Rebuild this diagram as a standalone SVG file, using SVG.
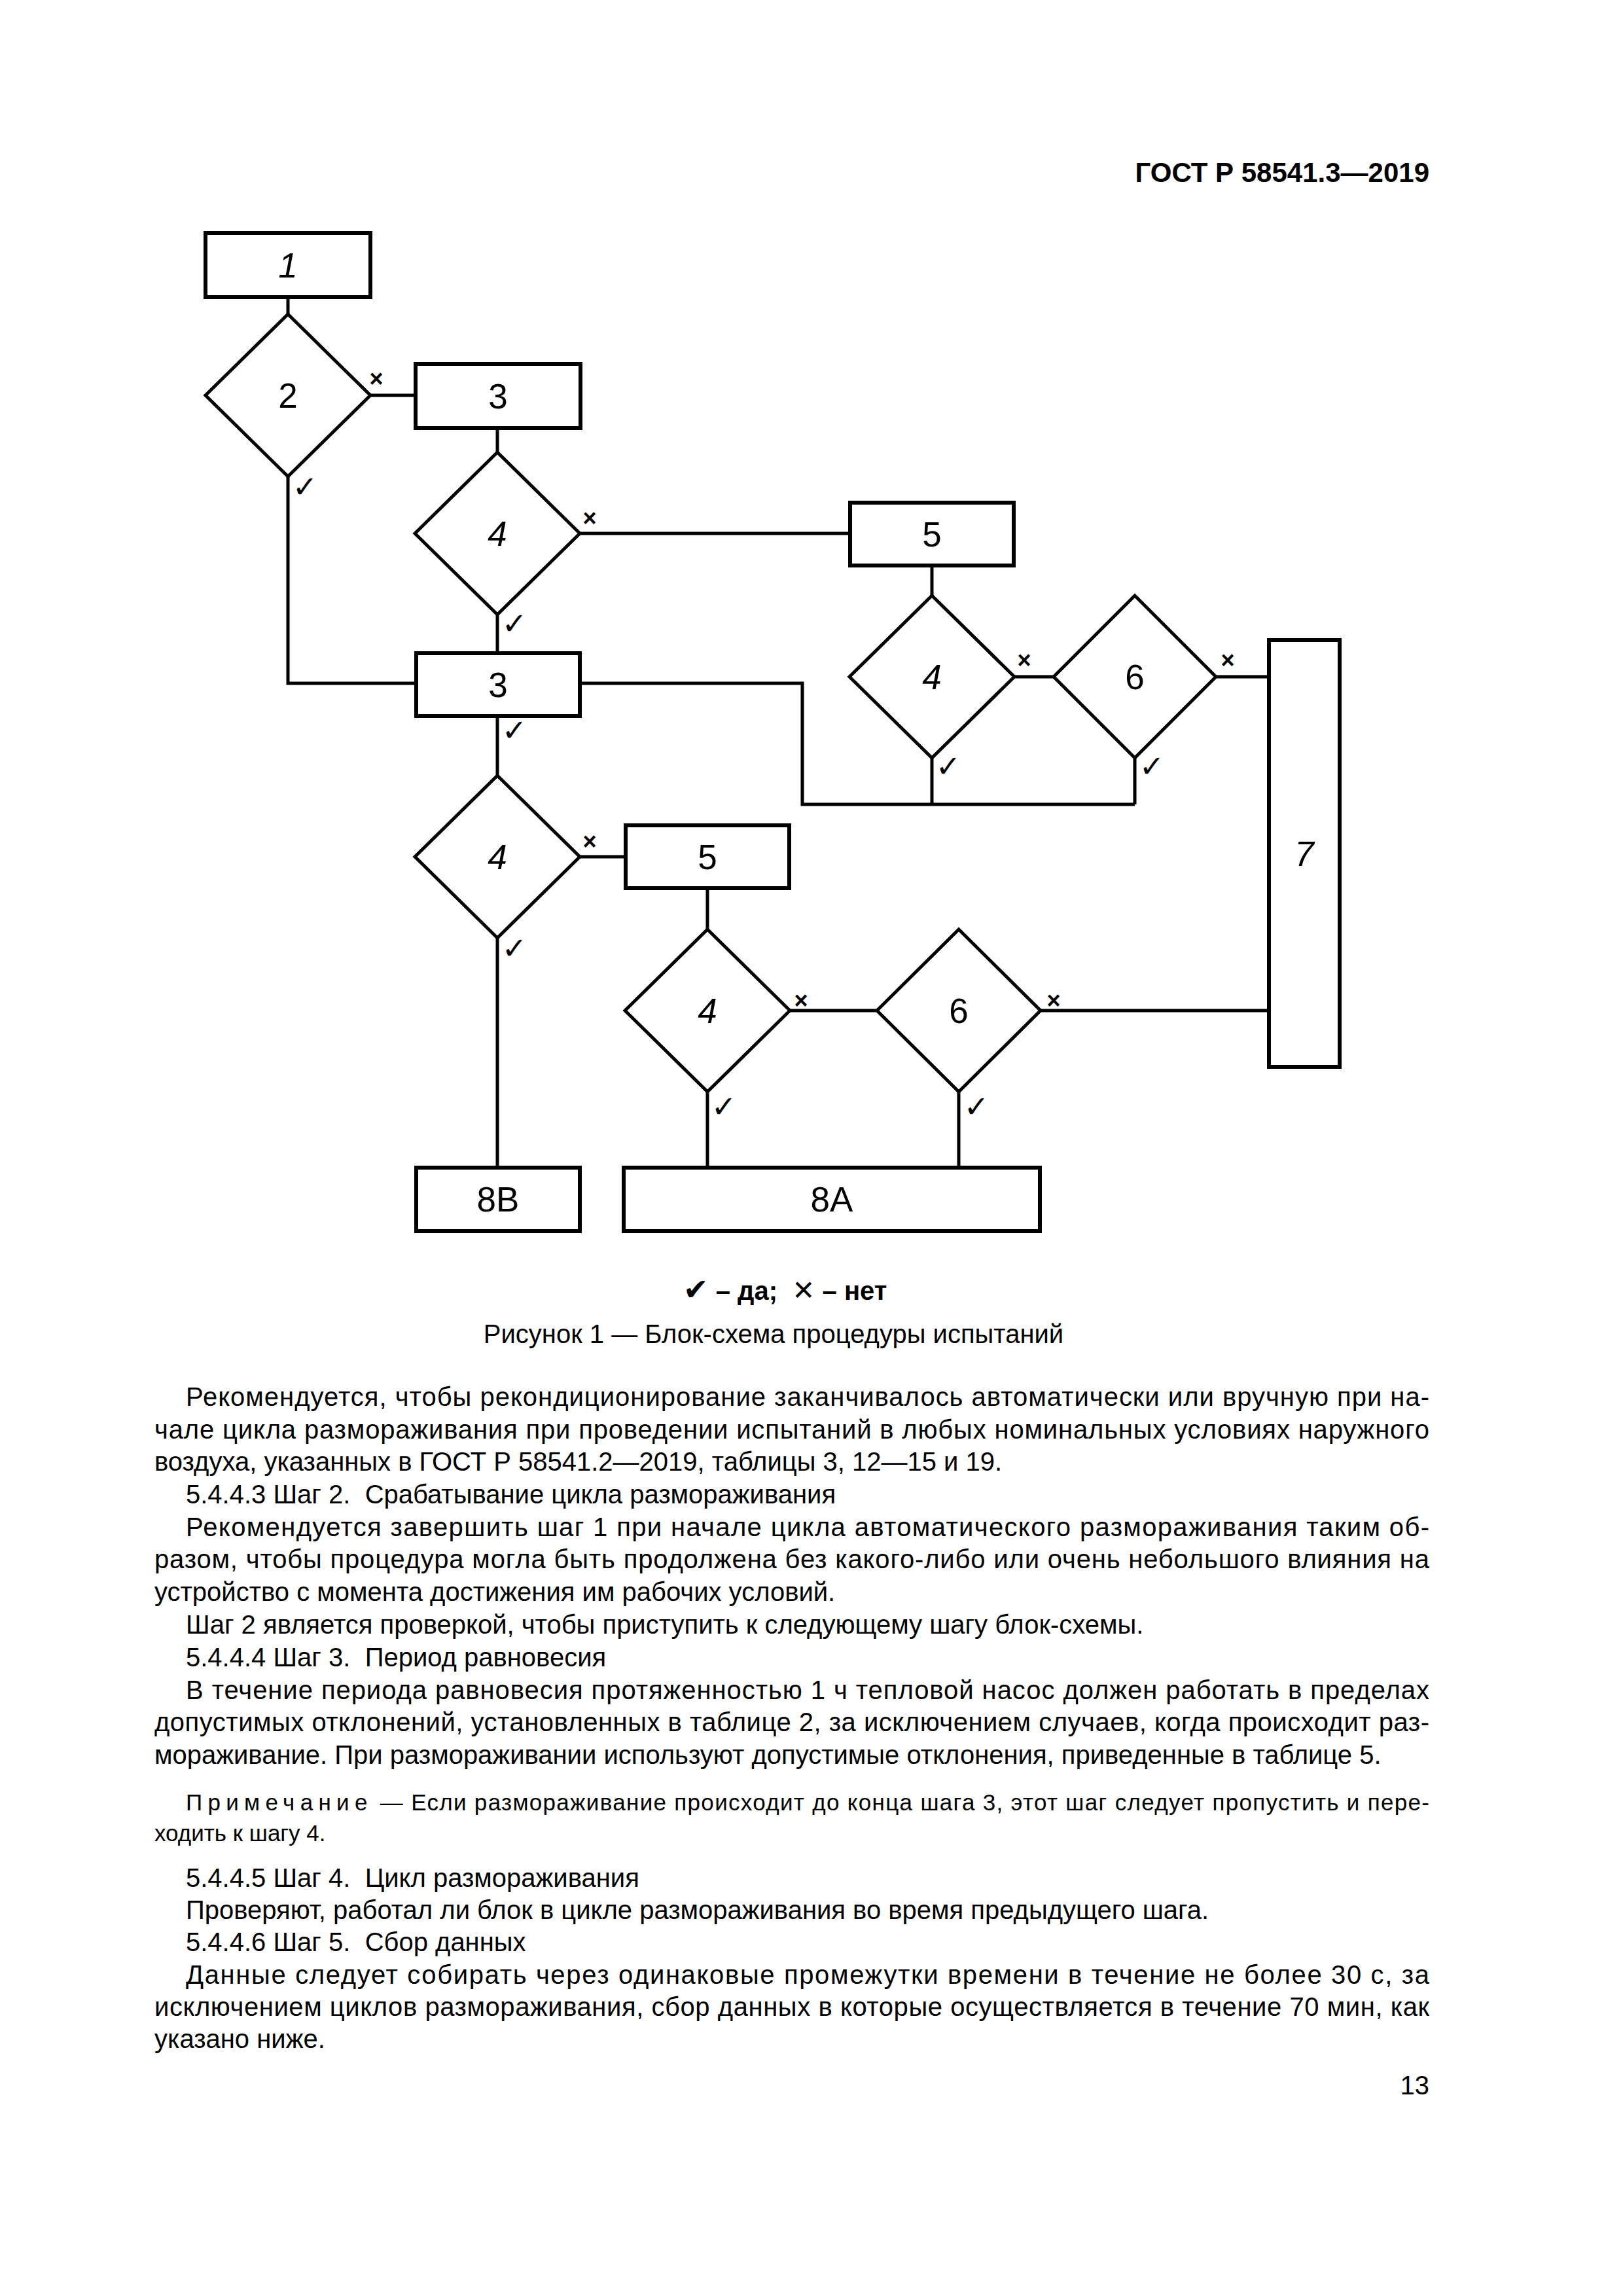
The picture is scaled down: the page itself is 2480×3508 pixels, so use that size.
<svg xmlns="http://www.w3.org/2000/svg" width="2480" height="3508" viewBox="0 0 2480 3508">
<style>
.box{fill:#fff;stroke:#000;stroke-width:6}
.dia{fill:#fff;stroke:#000;stroke-width:5}
.con{fill:none;stroke:#000;stroke-width:5}
.lbl{font-family:"Liberation Sans",Arial,sans-serif;font-size:53px;text-anchor:middle;fill:#000}
.it{font-style:italic}
.no{font-family:"Liberation Sans",Arial,sans-serif;font-weight:bold;font-size:36px;text-anchor:middle}
.yes{font-family:"DejaVu Sans",sans-serif;font-size:46px;text-anchor:middle}
.body{font-family:"Liberation Sans",Arial,sans-serif;font-size:40px;fill:#000}
.note{font-family:"Liberation Sans",Arial,sans-serif;font-size:35px;fill:#000}
.hdr{font-family:"Liberation Sans",Arial,sans-serif;font-size:42px;font-weight:bold;text-anchor:end}
</style>
<rect width="2480" height="3508" fill="#fff"/>
<text class="hdr" x="2184" y="278">ГОСТ Р 58541.3—2019</text>

<g id="connectors">
<path class="con" d="M440 456V480"/>
<path class="con" d="M566 604H635"/>
<path class="con" d="M760 654V691"/>
<path class="con" d="M886 815H1299"/>
<path class="con" d="M760 939V998"/>
<path class="con" d="M440 728V1044H636"/>
<path class="con" d="M886 1044H1226V1229H1734"/>
<path class="con" d="M1424 864V910"/>
<path class="con" d="M1550 1034H1610"/>
<path class="con" d="M1858 1034H1939"/>
<path class="con" d="M1424 1158V1229"/>
<path class="con" d="M1734 1158V1229"/>
<path class="con" d="M760 1094V1185"/>
<path class="con" d="M886 1309H956"/>
<path class="con" d="M760 1433V1784"/>
<path class="con" d="M1081 1357V1420"/>
<path class="con" d="M1207 1544H1340"/>
<path class="con" d="M1590 1544H1939"/>
<path class="con" d="M1081 1668V1784"/>
<path class="con" d="M1465 1668V1784"/>
<text class="no" x="575" y="591">×</text>
<text class="no" x="901" y="804">×</text>
<text class="no" x="1565" y="1021">×</text>
<text class="no" x="1876" y="1021">×</text>
<text class="no" x="901" y="1298">×</text>
<text class="no" x="1224" y="1541">×</text>
<text class="no" x="1610" y="1541">×</text>
<text class="yes" x="466" y="760">✓</text>
<text class="yes" x="786" y="969">✓</text>
<text class="yes" x="786" y="1132">✓</text>
<text class="yes" x="1449" y="1187">✓</text>
<text class="yes" x="1760" y="1187">✓</text>
<text class="yes" x="786" y="1465">✓</text>
<text class="yes" x="1106" y="1707">✓</text>
<text class="yes" x="1492" y="1707">✓</text>
</g>

<g id="n1"><rect class="box" x="314" y="356" width="252" height="98"/><text class="lbl it" x="440" y="424">1</text></g>
<g id="n2"><polygon class="dia" points="440,480 566,604 440,728 314,604"/><text class="lbl" x="440" y="623">2</text></g>
<g id="n3a"><rect class="box" x="635" y="556" width="252" height="98"/><text class="lbl" x="761" y="624">3</text></g>
<g id="n4a"><polygon class="dia" points="760,691 886,815 760,939 634,815"/><text class="lbl it" x="760" y="834">4</text></g>
<g id="n5a"><rect class="box" x="1299" y="768" width="250" height="96"/><text class="lbl" x="1424" y="835">5</text></g>
<g id="n3b"><rect class="box" x="636" y="998" width="250" height="96"/><text class="lbl" x="761" y="1065">3</text></g>
<g id="n4b"><polygon class="dia" points="1424,910 1550,1034 1424,1158 1298,1034"/><text class="lbl it" x="1424" y="1053">4</text></g>
<g id="n6a"><polygon class="dia" points="1734,910 1858,1034 1734,1158 1610,1034"/><text class="lbl" x="1734" y="1053">6</text></g>
<g id="n7"><rect class="box" x="1939" y="978" width="108" height="652"/><text class="lbl it" x="1993" y="1323">7</text></g>
<g id="n4c"><polygon class="dia" points="760,1185 886,1309 760,1433 634,1309"/><text class="lbl it" x="760" y="1328">4</text></g>
<g id="n5b"><rect class="box" x="956" y="1261" width="250" height="96"/><text class="lbl" x="1081" y="1328">5</text></g>
<g id="n4d"><polygon class="dia" points="1081,1420 1207,1544 1081,1668 955,1544"/><text class="lbl it" x="1081" y="1563">4</text></g>
<g id="n6b"><polygon class="dia" points="1465,1420 1590,1544 1465,1668 1340,1544"/><text class="lbl" x="1465" y="1563">6</text></g>
<g id="n8b"><rect class="box" x="636" y="1784" width="250" height="97"/><text class="lbl" x="761" y="1851">8B</text></g>
<g id="n8a"><rect class="box" x="953" y="1784" width="636" height="97"/><text class="lbl" x="1271" y="1851">8A</text></g>

<g id="legend" font-family="Liberation Sans, Arial, sans-serif" font-weight="bold" font-size="40">
<text x="1044" y="1986"><tspan font-family="DejaVu Sans, sans-serif" font-size="46">✔</tspan> – да;&#160; <tspan font-family="DejaVu Sans, sans-serif" font-size="42" font-weight="normal">✕</tspan> – нет</text>
</g>
<text class="body" x="1182" y="2052" text-anchor="middle" font-size="37.5">Рисунок 1 — Блок-схема процедуры испытаний</text>

<g id="bodytext">
<text class="body" x="284" y="2148" textLength="1900" lengthAdjust="spacing">Рекомендуется, чтобы рекондиционирование заканчивалось автоматически или вручную при на-</text>
<text class="body" x="236" y="2198" textLength="1948" lengthAdjust="spacing">чале цикла размораживания при проведении испытаний в любых номинальных условиях наружного</text>
<text class="body" x="236" y="2247">воздуха, указанных в ГОСТ Р 58541.2—2019, таблицы 3, 12—15 и 19.</text>
<text class="body" x="284" y="2297">5.4.4.3 Шаг 2.&#160; Срабатывание цикла размораживания</text>
<text class="body" x="284" y="2347" textLength="1900" lengthAdjust="spacing">Рекомендуется завершить шаг 1 при начале цикла автоматического размораживания таким об-</text>
<text class="body" x="236" y="2396" textLength="1948" lengthAdjust="spacing">разом, чтобы процедура могла быть продолжена без какого-либо или очень небольшого влияния на</text>
<text class="body" x="236" y="2446">устройство с момента достижения им рабочих условий.</text>
<text class="body" x="284" y="2496">Шаг 2 является проверкой, чтобы приступить к следующему шагу блок-схемы.</text>
<text class="body" x="284" y="2546">5.4.4.4 Шаг 3.&#160; Период равновесия</text>
<text class="body" x="284" y="2596" textLength="1900" lengthAdjust="spacing">В течение периода равновесия протяженностью 1 ч тепловой насос должен работать в пределах</text>
<text class="body" x="236" y="2645" textLength="1948" lengthAdjust="spacing">допустимых отклонений, установленных в таблице 2, за исключением случаев, когда происходит раз-</text>
<text class="body" x="236" y="2695">мораживание. При размораживании используют допустимые отклонения, приведенные в таблице 5.</text>
<text class="note" x="284" y="2766" textLength="1900" lengthAdjust="spacing"><tspan letter-spacing="7">Примечание</tspan> — Если размораживание происходит до конца шага 3, этот шаг следует пропустить и пере-</text>
<text class="note" x="236" y="2813">ходить к шагу 4.</text>
<text class="body" x="284" y="2883">5.4.4.5 Шаг 4.&#160; Цикл размораживания</text>
<text class="body" x="284" y="2932">Проверяют, работал ли блок в цикле размораживания во время предыдущего шага.</text>
<text class="body" x="284" y="2981">5.4.4.6 Шаг 5.&#160; Сбор данных</text>
<text class="body" x="284" y="3031" textLength="1900" lengthAdjust="spacing">Данные следует собирать через одинаковые промежутки времени в течение не более 30 с, за</text>
<text class="body" x="236" y="3080" textLength="1948" lengthAdjust="spacing">исключением циклов размораживания, сбор данных в которые осуществляется в течение 70 мин, как</text>
<text class="body" x="236" y="3129">указано ниже.</text>
<text class="body" x="2184" y="3200" text-anchor="end">13</text>
</g>
</svg>
